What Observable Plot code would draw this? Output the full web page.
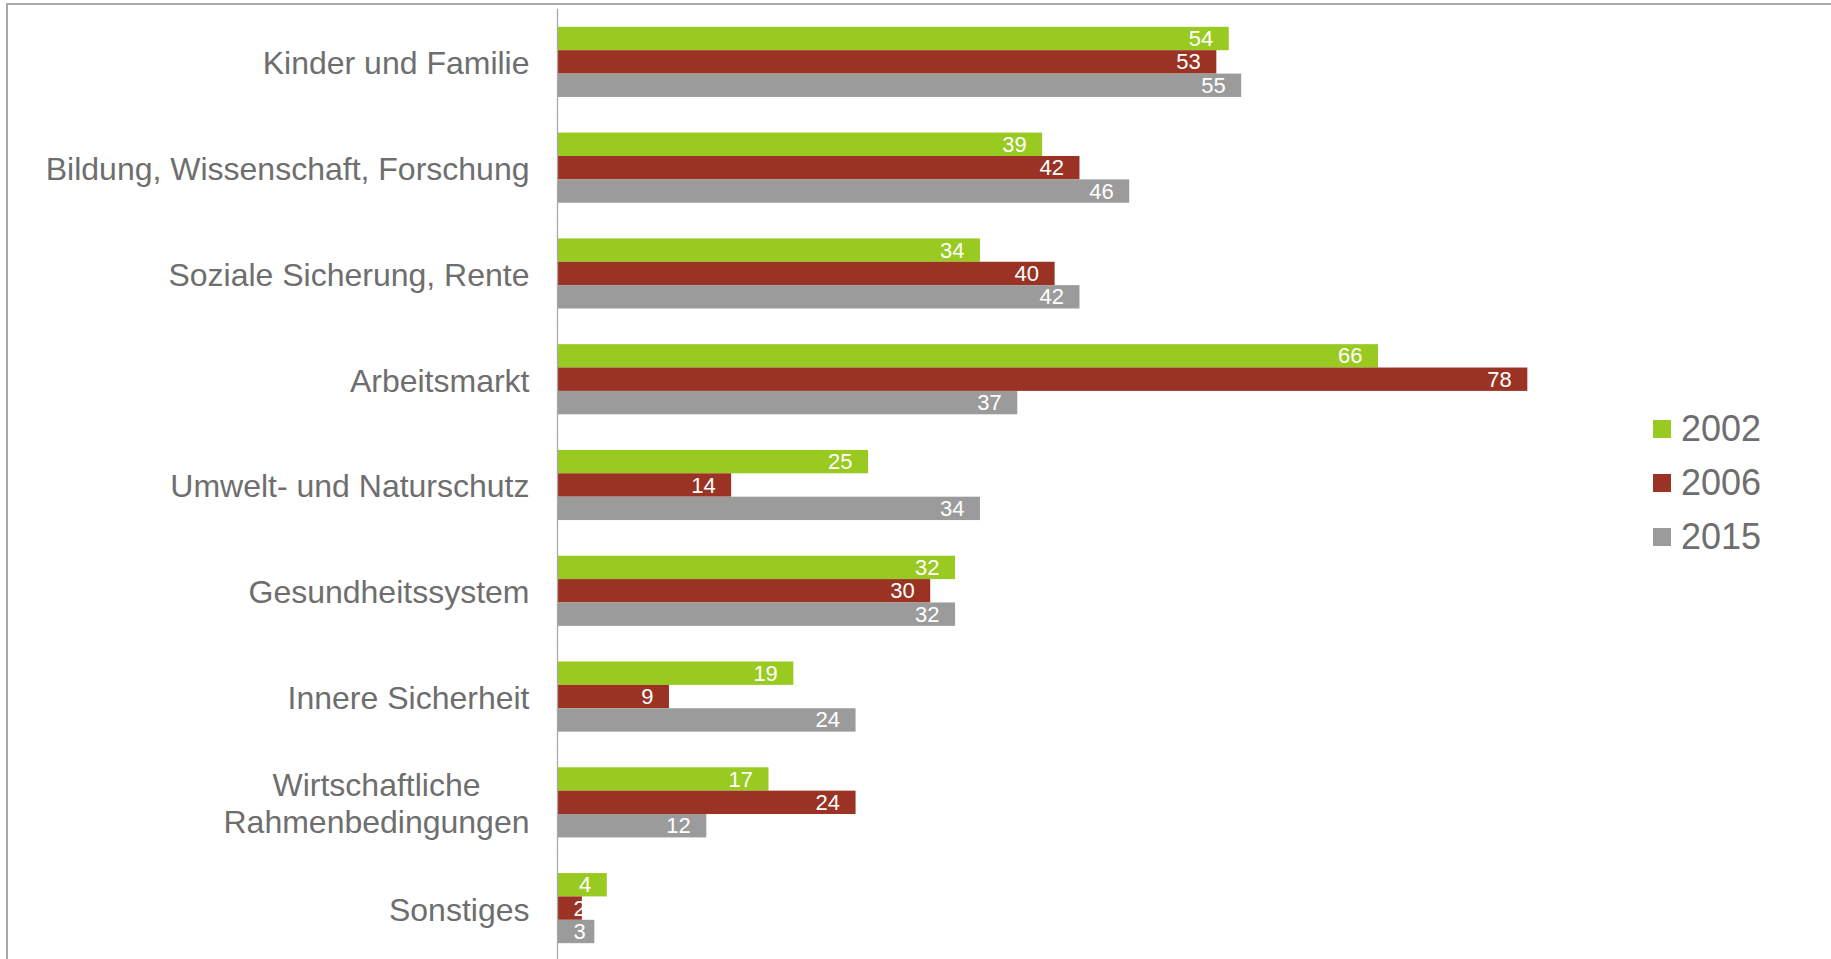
<!DOCTYPE html>
<html>
<head>
<meta charset="utf-8">
<script src="https://cdn.jsdelivr.net/npm/d3@7"></script>
<script src="https://cdn.jsdelivr.net/npm/@observablehq/plot@0.6"></script>
<style>
  html, body { margin: 0; padding: 0; background: #fff; overflow: hidden; }
  #wrap { position: relative; width: 1831px; height: 959px; }
  #frame { position: absolute; left: 6px; top: 3px; width: 1900px; height: 1000px;
           border-left: 2px solid #a9a9a9; border-top: 2px solid #a9a9a9; box-sizing: border-box; }
  #chart { position: absolute; left: 0; top: 0; }
  #legend { position: absolute; left: 1653px; top: 402px; font-family: "Liberation Sans", Arial, sans-serif;
            font-size: 36px; color: #6e6e6e; }
  #legend .row { display: flex; align-items: center; height: 54px; }
  #legend .sw { width: 18px; height: 18px; margin-right: 10px; }
</style>
</head>
<body>
<div id="wrap">
  <div id="frame"></div>
  <div id="chart"></div>
  <div id="legend"></div>
</div>
<script>
const categories = [
  "Kinder und Familie",
  "Bildung, Wissenschaft, Forschung",
  "Soziale Sicherung, Rente",
  "Arbeitsmarkt",
  "Umwelt- und Naturschutz",
  "Gesundheitssystem",
  "Innere Sicherheit",
  "Wirtschaftliche\nRahmenbedingungen",
  "Sonstiges"
];
const years = ["2002", "2006", "2015"];
const colors = ["#99ca22", "#9a3324", "#9b9b9b"];
const values2002 = [54, 39, 34, 66, 25, 32, 19, 17, 4];
const values2006 = [53, 42, 40, 78, 14, 30, 9, 24, 2];
const values2015 = [55, 46, 42, 37, 34, 32, 24, 12, 3];

const series = [values2002, values2006, values2015];
const data = [];
categories.forEach((c, i) => {
  years.forEach((y, j) => data.push({category: c, year: y, value: series[j][i]}));
});

const font = '"Liberation Sans", Arial, sans-serif';

const chart = Plot.plot({
  width: 1831,
  height: 961,
  marginLeft: 557,
  marginRight: 154.4,
  marginTop: 9,
  marginBottom: 0,
  style: {fontFamily: font, background: "transparent", overflow: "visible"},
  x: {domain: [0, 90], axis: null},
  y: {domain: years, axis: null, padding: 0, round: false},
  fy: {domain: categories, axis: null, paddingInner: 0.337, paddingOuter: 0.1685, round: false},
  color: {domain: years, range: colors},
  marks: [
    Plot.barX(data, {fy: "category", y: "year", x: "value", fill: "year"}),
    Plot.text(data, {
      fy: "category", y: "year",
      x: d => Math.max(d.value, 3.55),
      text: d => String(d.value),
      textAnchor: "end", dx: -16, fill: "white", fontSize: 22
    }),
    Plot.ruleX([0], {stroke: "#a9a9a9", strokeWidth: 1.3, insetTop: -18, insetBottom: -18}),
    Plot.text(categories, {
      fy: d => d, text: d => d,
      frameAnchor: "left", textAnchor: "end", dx: -28,
      fill: "#6e6e6e", fontSize: 32, lineHeight: 1.16
    })
  ]
});
document.getElementById("chart").appendChild(chart);

// center multi-line labels relative to each other, keep block right-aligned
chart.querySelectorAll("text").forEach(t => {
  const spans = t.querySelectorAll("tspan");
  if (spans.length > 1) {
    const widths = Array.from(spans).map(s => s.getComputedTextLength());
    const maxW = Math.max(...widths);
    t.setAttribute("text-anchor", "middle");
    spans.forEach(s => {
      const x0 = +(s.getAttribute("x") || 0);
      s.setAttribute("x", x0 - maxW / 2);
    });
  }
});

const legend = document.getElementById("legend");
years.forEach((y, i) => {
  const row = document.createElement("div");
  row.className = "row";
  row.innerHTML = `<div class="sw" style="background:${colors[i]}"></div><span>${y}</span>`;
  legend.appendChild(row);
});
</script>
</body>
</html>
